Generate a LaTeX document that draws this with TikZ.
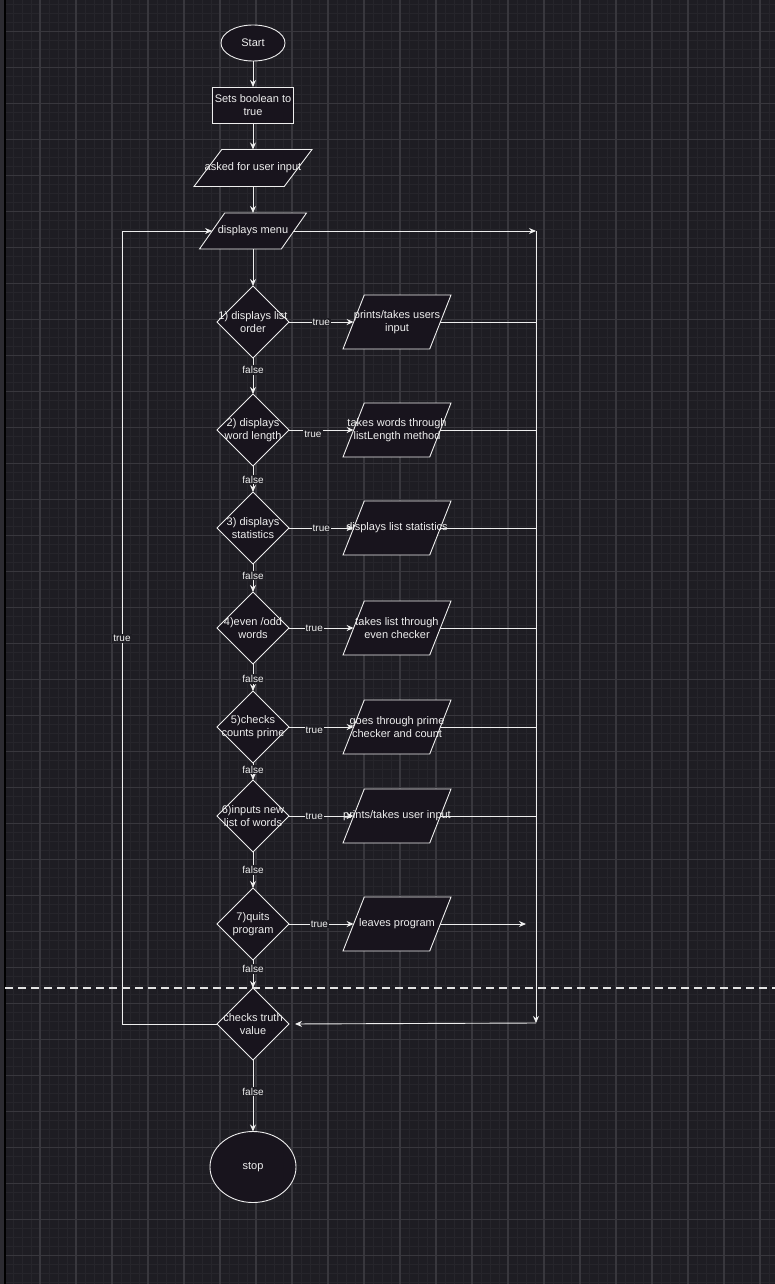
\documentclass[tikz,border=0pt]{standalone}
\usepackage{fontspec}
\setmainfont{Liberation Sans}
\usetikzlibrary{arrows.meta,positioning,shapes.geometric}
\definecolor{bgcolor}{RGB}{30,29,35}
\definecolor{boxcolor}{RGB}{24,20,29}
\definecolor{gridmajor}{RGB}{56,55,61}
\definecolor{gridminor}{RGB}{38,37,43}
\definecolor{stripcolor}{RGB}{44,43,49}
\definecolor{inkcolor}{RGB}{238,238,238}
\tikzset{
  shapeln/.style={draw=inkcolor, fill=boxcolor, line width=0.9pt, inner sep=0pt, outer sep=0pt},
  txt/.style={text=inkcolor, font=\fontsize{11}{13}\selectfont, align=center},
  terminal/.style={shapeln, ellipse, txt},
  process/.style={shapeln, rectangle, txt},
  decision/.style={shapeln, diamond, minimum width=72pt, minimum height=72pt},
  iobox/.style={shapeln, trapezium, inner sep=1pt, trapezium stretches=true,
    trapezium left angle=72, trapezium right angle=108,
    minimum width=108pt, minimum height=54pt},
  flow/.style={-{Stealth[length=7pt,width=6pt]}, draw=inkcolor, line width=0.9pt},
  plainln/.style={draw=inkcolor, line width=0.9pt},
  edgelbl/.style={fill=bgcolor, text=inkcolor, font=\fontsize{10}{12}\selectfont, inner sep=1pt},
}
\newcommand{\outrail}[1]{%
  \draw[plainln] (#1.east) -- (#1.east -| railtop);
}

\begin{document}
\begin{tikzpicture}[x=1pt, y=-1pt]
    \useasboundingbox (0,0) rectangle (775,1284);
    \fill[bgcolor] (0,0) rectangle (775,1284);
    % grid
    \foreach \x in {4,13,...,775} \draw[gridminor, line width=0.7pt] (\x,0) -- (\x,1284);
    \foreach \y in {4.7,13.7,...,1284} \draw[gridminor, line width=0.7pt] (0,\y) -- (775,\y);
    \foreach \x in {4,40,...,775} \draw[gridmajor, line width=1.2pt] (\x,0) -- (\x,1284);
    \foreach \y in {31.7,67.7,...,1284} \draw[gridmajor, line width=1.2pt] (0,\y) -- (775,\y);
    \fill[stripcolor] (0,0) rectangle (4,1284);
    \draw[black, line width=1.5pt] (5,0) -- (5,1284);

    \node[terminal, minimum width=64pt, minimum height=36pt] (start) at (253,43) {Start};
    \node[process, minimum width=81pt, minimum height=36pt] (setbool) at (253,105) {Sets boolean to\\true};
    \node[iobox, trapezium left angle=66, trapezium right angle=114, minimum width=118pt, minimum height=37pt,
      label={[txt]center:asked for user input}] (ask) at (253,168) {};
    \node[iobox, trapezium left angle=66, trapezium right angle=114, minimum width=107pt, minimum height=36pt,
      label={[txt]center:displays menu}] (menu) at (253,231) {};

    \node[decision, label={[txt]center:1) displays list\\order}] (d1) at (253,322) {};
    \node[decision, label={[txt]center:2) displays\\word length}] (d2) at (253,430) {};
    \node[decision, label={[txt]center:3) displays\\statistics}] (d3) at (253,528) {};
    \node[decision, label={[txt]center:4)even /odd\\words}] (d4) at (253,628) {};
    \node[decision, label={[txt]center:5)checks\\counts prime}] (d5) at (253,727) {};
    \node[decision, label={[txt]center:6)inputs new\\list of words}] (d6) at (253,816) {};
    \node[decision, label={[txt]center:7)quits\\program}] (d7) at (253,924) {};
    \node[decision, label={[txt]center:checks truth\\value}] (d8) at (253,1024) {};
    \node[terminal, minimum width=86pt, minimum height=71pt] (stop) at (253,1167) {stop};

    \node[iobox, label={[txt]center:prints/takes users\\input}] (p1) at (397,322) {};
    \node[iobox, label={[txt]center:takes words through\\listLength method}] (p2) at (397,430) {};
    \node[iobox, label={[txt]center:displays list statistics}] (p3) at (397,528) {};
    \node[iobox, label={[txt]center:takes list through\\even checker}] (p4) at (397,628) {};
    \node[iobox, label={[txt]center:goes through prime\\checker and count}] (p5) at (397,727) {};
    \node[iobox, label={[txt]center:prints/takes user input}] (p6) at (397,816) {};
    \node[iobox, label={[txt]center:leaves program}] (p7) at (397,924) {};

    \coordinate (railtop) at (536,231);
    \coordinate (railbot) at (536,1023);
    \coordinate (quitend) at (526,924);
    \coordinate (loopbot) at (122,1024);
    \coordinate (looptop) at (122,231);

    \draw[flow] (start) -- (setbool);
    \draw[flow] (setbool) -- (ask);
    \draw[flow] (ask) -- (menu);
    \draw[flow] (menu) -- (d1);

    \draw[flow] (d1) -- node[edgelbl, pos=0.33] {false} (d2);
    \draw[flow] (d2) -- node[edgelbl, pos=0.52] {false} (d3);
    \draw[flow] (d3) -- node[edgelbl, pos=0.41] {false} (d4);
    \draw[flow] (d4) -- node[edgelbl, pos=0.55] {false} (d5);
    \draw[flow] (d5) -- node[edgelbl, pos=0.39] {false} (d6);
    \draw[flow] (d6) -- node[edgelbl, pos=0.5] {false} (d7);
    \draw[flow] (d7) -- node[edgelbl, pos=0.32] {false} (d8);
    \draw[flow] (d8) -- node[edgelbl, pos=0.44] {false} (stop);

    \draw[flow] (d1.east) -- node[edgelbl, pos=0.5] {true} (p1.west);
    \draw[flow] (d2.east) -- node[edgelbl, pos=0.37, yshift=-4pt] {true} (p2.west);
    \draw[flow] (d3.east) -- node[edgelbl, pos=0.5] {true} (p3.west);
    \draw[flow] (d4.east) -- node[edgelbl, pos=0.39] {true} (p4.west);
    \draw[flow] (d5.east) -- node[edgelbl, pos=0.39, yshift=-3pt] {true} (p5.west);
    \draw[flow] (d6.east) -- node[edgelbl, pos=0.39] {true} (p6.west);
    \draw[flow] (d7.east) -- node[edgelbl, pos=0.47] {true} (p7.west);

    % right rail back to the check
    \draw[flow] (menu.east) -- (railtop);
    \outrail{p1}
    \outrail{p2}
    \outrail{p3}
    \outrail{p4}
    \outrail{p5}
    \outrail{p6}
    \draw[flow] (p7.east) -- (quitend);
    \draw[flow] (railtop) -- (railbot);
    \draw[flow, shorten >=6pt] (railbot) -- (d8.east);

    \draw[flow] (d8.west) -- (loopbot) -- node[edgelbl, pos=0.486] {true} (looptop) -- (menu.west);

    \draw[inkcolor!90!gray, line width=1.8pt, dash pattern=on 8pt off 5pt] (5,988) -- (775,988);
  \end{tikzpicture}
\end{document}
